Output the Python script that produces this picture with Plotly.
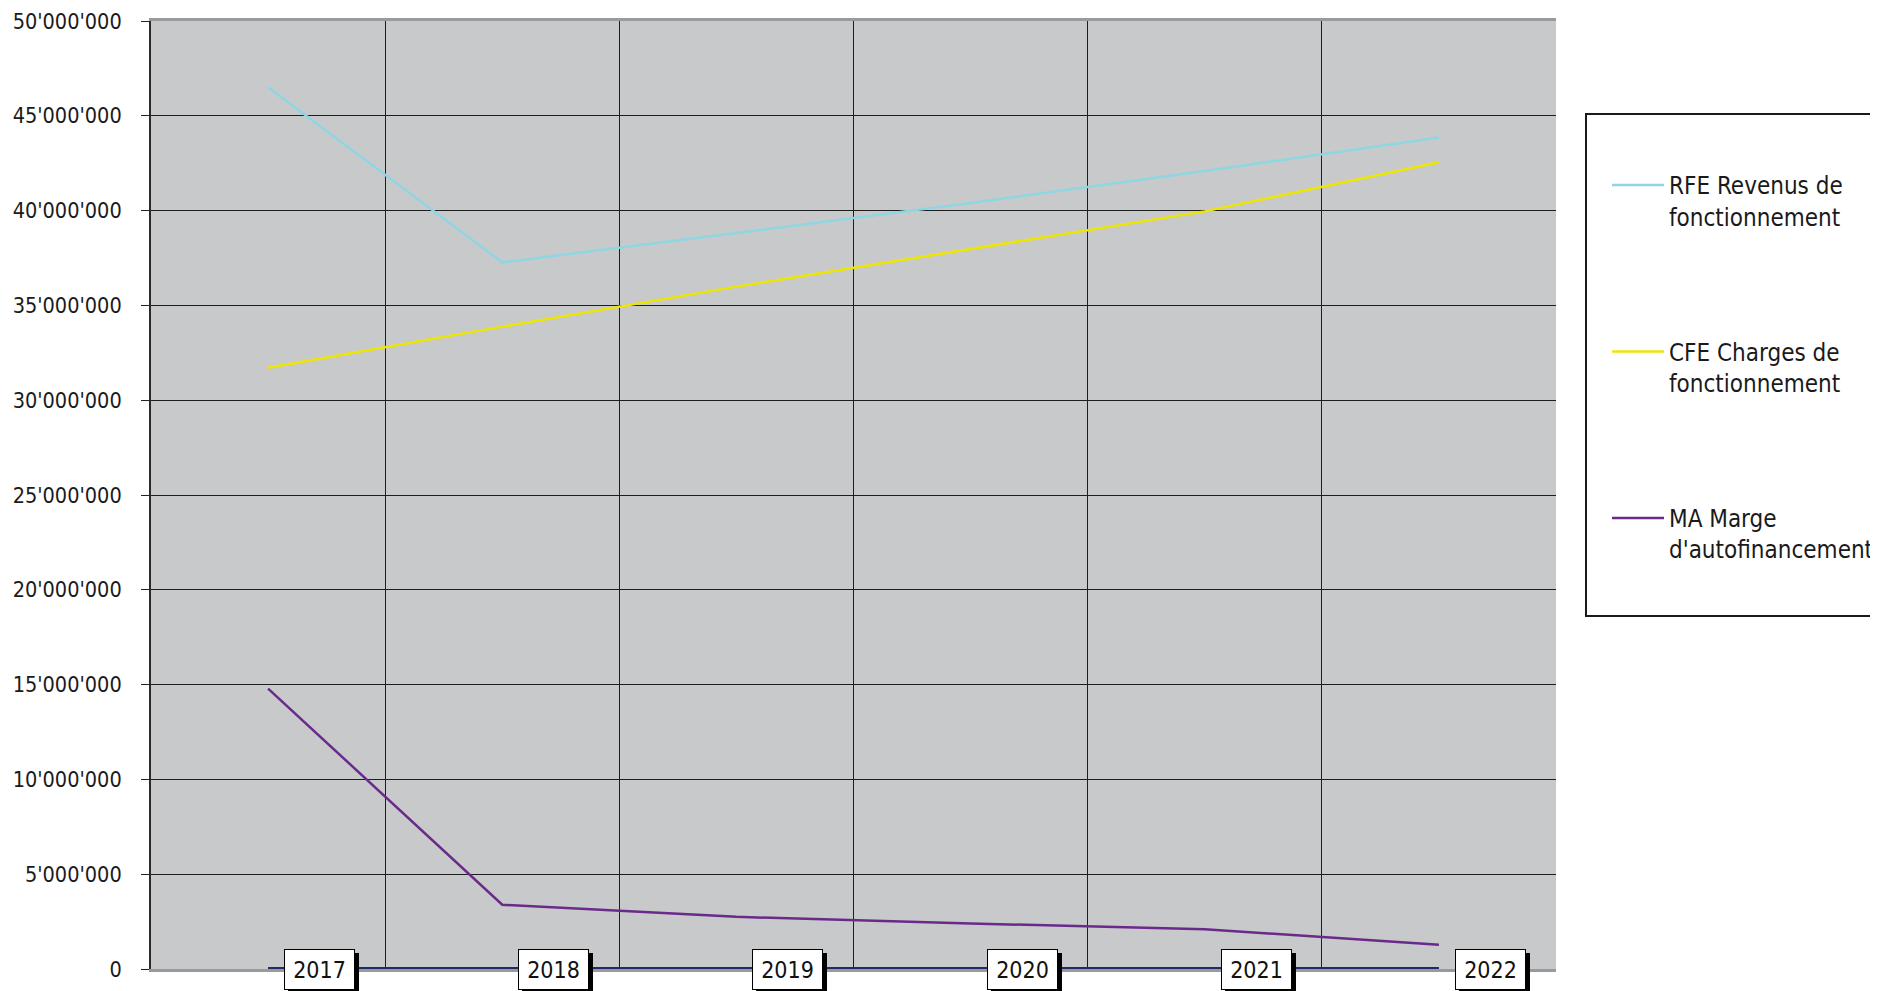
import plotly.graph_objects as go

# ---- data ----
years = ["2017", "2018", "2019", "2020", "2021", "2022"]
rfe = [46.50e6, 37.27e6, 38.82e6, 40.40e6, 42.09e6, 43.85e6]
cfe = [31.71e6, 33.88e6, 35.99e6, 37.97e6, 39.96e6, 42.55e6]
ma = [14.79e6, 3.39e6, 2.75e6, 2.40e6, 2.10e6, 1.28e6]
baseline = [0, 0, 0, 0, 0, 0]
series_names = [
    "RFE Revenus de<br>fonctionnement",
    "CFE Charges de<br>fonctionnement",
    "MA Marge<br>d'autofinancement",
]
series_colors = ["#8ed6e2", "#eee600", "#6a2a8a"]
y_tickvals = [0, 5e6, 10e6, 15e6, 20e6, 25e6, 30e6, 35e6, 40e6, 45e6, 50e6]

FONT = "DejaVu Sans Condensed, DejaVu Sans, sans-serif"

OFF = 8  # page body margin
W, H = 1878 - OFF, 991 - OFF
L, R, T, B = 151 - OFF, 322, 21 - OFF, 22
pw = W - L - R
ph = H - T - B


def px_x(x):
    return (x - OFF - L) / pw


def px_y(y):
    return (H - B - (y - OFF)) / ph


fig = go.Figure()
for i, (vals, name, col) in enumerate(zip([rfe, cfe, ma], series_names, series_colors)):
    fig.add_trace(go.Scatter(
        x=years, y=vals, name=name, mode="lines",
        line=dict(color=col, width=2.5),
        legendgroup=f"g{i}",
    ))

fig.add_trace(go.Scatter(
    x=years, y=baseline, mode="lines", showlegend=False,
    line=dict(color="#1f2a6b", width=4), cliponaxis=False,
))

# year labels as boxed data labels with a drop shadow
for idx, (yr, v) in enumerate(zip(years, baseline)):
    common = dict(x=idx, y=v, xref="x", yref="y", xanchor="left", yanchor="middle",
                  showarrow=False, width=63, height=33, borderpad=3, borderwidth=1)
    fig.add_annotation(text="\u00a0", xshift=20, yshift=-4, bgcolor="#000000",
                       bordercolor="#000000",
                       font=dict(family=FONT, size=23, color="#000000"), **common)
    fig.add_annotation(text=yr, xshift=16, bgcolor="#ffffff", bordercolor="#000000",
                       font=dict(family=FONT, size=23, color="#111111"), **common)

# legend frame
fig.add_shape(type="rect", xref="paper", yref="paper",
              x0=px_x(1586), x1=px_x(1920), y0=px_y(616), y1=px_y(114),
              line=dict(color="#1a1a1a", width=2), fillcolor="rgba(0,0,0,0)", layer="above")

fig.update_layout(
    width=W, height=H,
    margin=dict(l=L, r=R, t=T, b=B, pad=0, autoexpand=False),
    paper_bgcolor="#ffffff",
    plot_bgcolor="#c8c9cb",
    separators=".'",
    font=dict(family=FONT, size=22, color="#1a1a1a"),
    showlegend=True,
    legend=dict(
        x=px_x(1607), y=px_y(163), xanchor="left", yanchor="top",
        bgcolor="rgba(0,0,0,0)", borderwidth=0,
        font=dict(family=FONT, size=24, color="#1a1a1a"),
        traceorder="grouped", tracegroupgap=101, itemwidth=52, valign="top",
    ),
    xaxis=dict(
        type="category", tickson="boundaries", showgrid=True, range=[-0.5, 5.5],
        gridcolor="#1e1e1e", gridwidth=1, showticklabels=False, ticks="",
        showline=True, linecolor="#9a9a9a", linewidth=3, mirror=True,
        layer="below traces", zeroline=False, fixedrange=True, automargin=False,
    ),
    yaxis=dict(
        range=[0, 50e6], tickvals=y_tickvals, tickformat=",d",
        showgrid=True, gridcolor="#1e1e1e", gridwidth=1,
        ticks="outside", ticklen=8, tickcolor="#222222", tickwidth=1,
        ticklabelstandoff=15, automargin=False,
        showline=True, linecolor="#2a2a2a", linewidth=2,
        tickfont=dict(family=FONT, size=21.5, color="#1a1a1a"),
        zeroline=False, layer="below traces",
    ),
    yaxis2=dict(
        overlaying="y", side="right", range=[0, 50e6], showline=True,
        linecolor="#9a9a9a", linewidth=3, showgrid=False, automargin=False,
        showticklabels=False, ticks="", zeroline=False,
    ),
)

fig.write_html("out.html")
